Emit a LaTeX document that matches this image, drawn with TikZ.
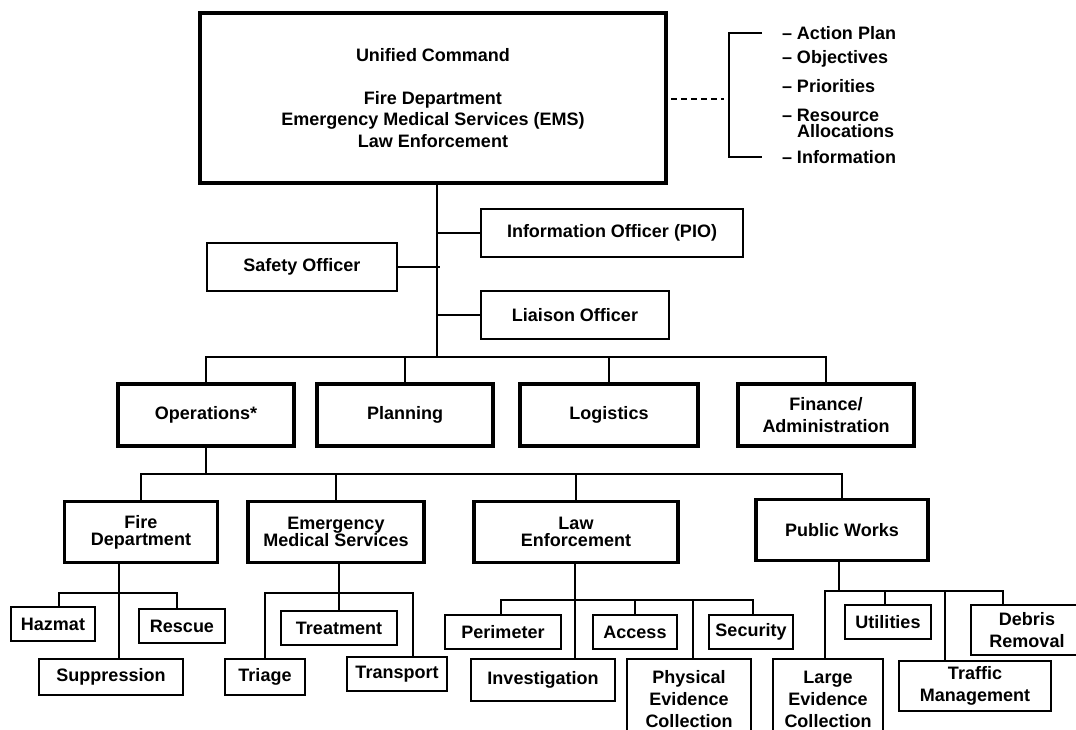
\documentclass[tikz,border=0pt]{standalone}
\usepackage{fontspec}
\setmainfont{Liberation Sans}
\usetikzlibrary{calc}
\tikzset{
  x=0.75pt, y=-0.75pt,
  every node/.style={font=\bfseries\fontsize{13.5}{12.75}\selectfont, align=center, inner sep=0pt, outer sep=0pt},
  sz/.style 2 args={minimum width=#1*0.75pt, minimum height=#2*0.75pt},
  thinbox/.style={draw, line width=1.5pt, rectangle},
  thickbox/.style={draw, line width=2.7pt, rectangle},
  cmdbox/.style={draw, line width=3.2pt, rectangle},
  conn/.style={line width=1.5pt},
  listitem/.style={anchor=west, align=left},
  wide/.style={font=\bfseries\fontsize{13.5}{16.5}\selectfont},
}
\begin{document}
\begin{tikzpicture}
\useasboundingbox (0,0) rectangle (1076,730);

% Unified command
\node[cmdbox, sz={466}{170}, font=\bfseries\fontsize{13.5}{16.1}\selectfont] (uc) at (433,98)
  {Unified Command\\[16pt]Fire Department\\Emergency Medical Services (EMS)\\Law Enforcement};

% bracket list
\coordinate (brk) at (729,99);
\coordinate (bt) at (762,33);
\coordinate (bb) at (762,157);
\draw[conn] (bt) -| (brk) |- (bb);
\draw[conn, dash pattern=on 4.5pt off 3pt, shorten <=4pt, shorten >=4pt] (uc.east |- brk) -- (brk);
\node[listitem] (i1) at (782,33) {– Action Plan};
\node[listitem] (i2) at (782,59) {– Objectives};
\node[listitem] (i3) at (782,86) {– Priorities};
\node[listitem, font=\bfseries\fontsize{13.5}{12}\selectfont] (i4) at (782,123) {– Resource\\\hphantom{– }Allocations};
\node[listitem] (i5) at (782,157) {– Information};

% command staff
\coordinate (cbus) at (437,357);
\node[thinbox, sz={262}{48}] (pio) at (612,233) {Information Officer (PIO)};
\node[thinbox, sz={190}{48}] (safe) at (302,267) {Safety Officer};
\node[thinbox, sz={188}{48}] (liai) at (575,315) {Liaison Officer};
\draw[conn] (uc.south -| cbus) -- (cbus);
\draw[conn] (pio.west) -- (pio.west -| cbus);
\draw[conn] (safe.east) -- ($(safe.east -| cbus)+(3,0)$);
\draw[conn] (liai.west) -- (liai.west -| cbus);

% section chiefs
\node[thickbox, sz={176}{62}] (ops) at (206,415) {Operations*};
\node[thickbox, sz={176}{62}] (plan) at (405,415) {Planning};
\node[thickbox, sz={178}{62}] (log) at (609,415) {Logistics};
\node[thickbox, sz={176}{62}, font=\bfseries\fontsize{13.5}{17}\selectfont] (fin) at (826,415) {Finance/\\Administration};
\draw[conn] (ops.north) -- (ops.north |- cbus) -- (fin.north |- cbus) -- (fin.north);
\draw[conn] (plan.north) -- (plan.north |- cbus);
\draw[conn] (log.north) -- (log.north |- cbus);

% branches
\coordinate (obus) at (206,474);
\node[thickbox, sz={153}{61}] (fd) at (141,532) {Fire\\Department};
\node[thickbox, sz={176}{61}] (ems) at (336,532) {Emergency\\Medical Services};
\node[thickbox, sz={204}{61}] (law) at (576,532) {Law\\Enforcement};
\node[thickbox, sz={172}{61}] (pw) at (842,530) {Public Works};
\draw[conn] (ops.south) -- (obus);
\draw[conn] (fd.north) -- (fd.north |- obus) -- (pw.north |- obus) -- (pw.north);
\draw[conn] (ems.north) -- (ems.north |- obus);
\draw[conn] (law.north) -- (law.north |- obus);

% fire department units
\node[thinbox, sz={84}{34}] (haz) at (53,624) {Hazmat};
\node[thinbox, sz={86}{34}] (resc) at (182,626) {Rescue};
\node[thinbox, sz={144}{36}] (supp) at (111,677) {Suppression};
\coordinate (fdbus) at (119,593);
\coordinate (fdl) at (59,593);
\coordinate (fdr) at (177,593);
\draw[conn] (fd.south -| fdbus) -- (supp.north -| fdbus);
\draw[conn] (haz.north -| fdl) |- (fdr) -- (resc.north -| fdr);

% EMS units
\node[thinbox, sz={116}{34}] (treat) at (339,628) {Treatment};
\node[thinbox, sz={80}{36}] (tri) at (265,677) {Triage};
\node[thinbox, sz={100}{34}] (trans) at (397,674) {Transport};
\coordinate (emsr) at (413,593);
\draw[conn] (ems.south -| treat.north) -- (treat.north);
\draw[conn] (tri.north) |- (emsr) -- (trans.north -| emsr);

% law enforcement units
\node[thinbox, sz={116}{34}] (peri) at (503,632) {Perimeter};
\node[thinbox, sz={84}{34}] (acc) at (635,632) {Access};
\node[thinbox, sz={84}{34}] (sec) at (751,632) {Security};
\node[thinbox, sz={144}{42}] (inv) at (543,680) {Investigation};
\node[thinbox, wide, sz={124}{81}] (phys) at (689,699.5) {Physical\\Evidence\\Collection};
\coordinate (lawbus) at (575,600);
\coordinate (lawl) at (501,600);
\coordinate (lawr) at (753,600);
\coordinate (physx) at (693,600);
\draw[conn] (law.south -| lawbus) -- (inv.north -| lawbus);
\draw[conn] (peri.north -| lawl) |- (lawr) -- (sec.north -| lawr);
\draw[conn] (acc.north) -- (acc.north |- lawbus);
\draw[conn] (physx) -- (phys.north -| physx);

% public works units
\node[thinbox, wide, sz={110}{81}] (large) at (828,699.5) {Large\\Evidence\\Collection};
\node[thinbox, sz={86}{34}] (util) at (888,622) {Utilities};
\node[thinbox, wide, sz={152}{50}] (traf) at (975,686) {Traffic\\Management};
\node[thinbox, wide, sz={112}{50}] (deb) at (1027,630) {Debris\\Removal};
\coordinate (pwbus) at (839,591);
\coordinate (pwl) at (825,591);
\coordinate (pwr) at (1003,591);
\coordinate (utx) at (885,591);
\coordinate (trx) at (945,591);
\draw[conn] (pw.south -| pwbus) -- (pwbus);
\draw[conn] (large.north -| pwl) |- (pwr) -- (deb.north -| pwr);
\draw[conn] (utx) -- (util.north -| utx);
\draw[conn] (trx) -- (traf.north -| trx);
\end{tikzpicture}
\end{document}
